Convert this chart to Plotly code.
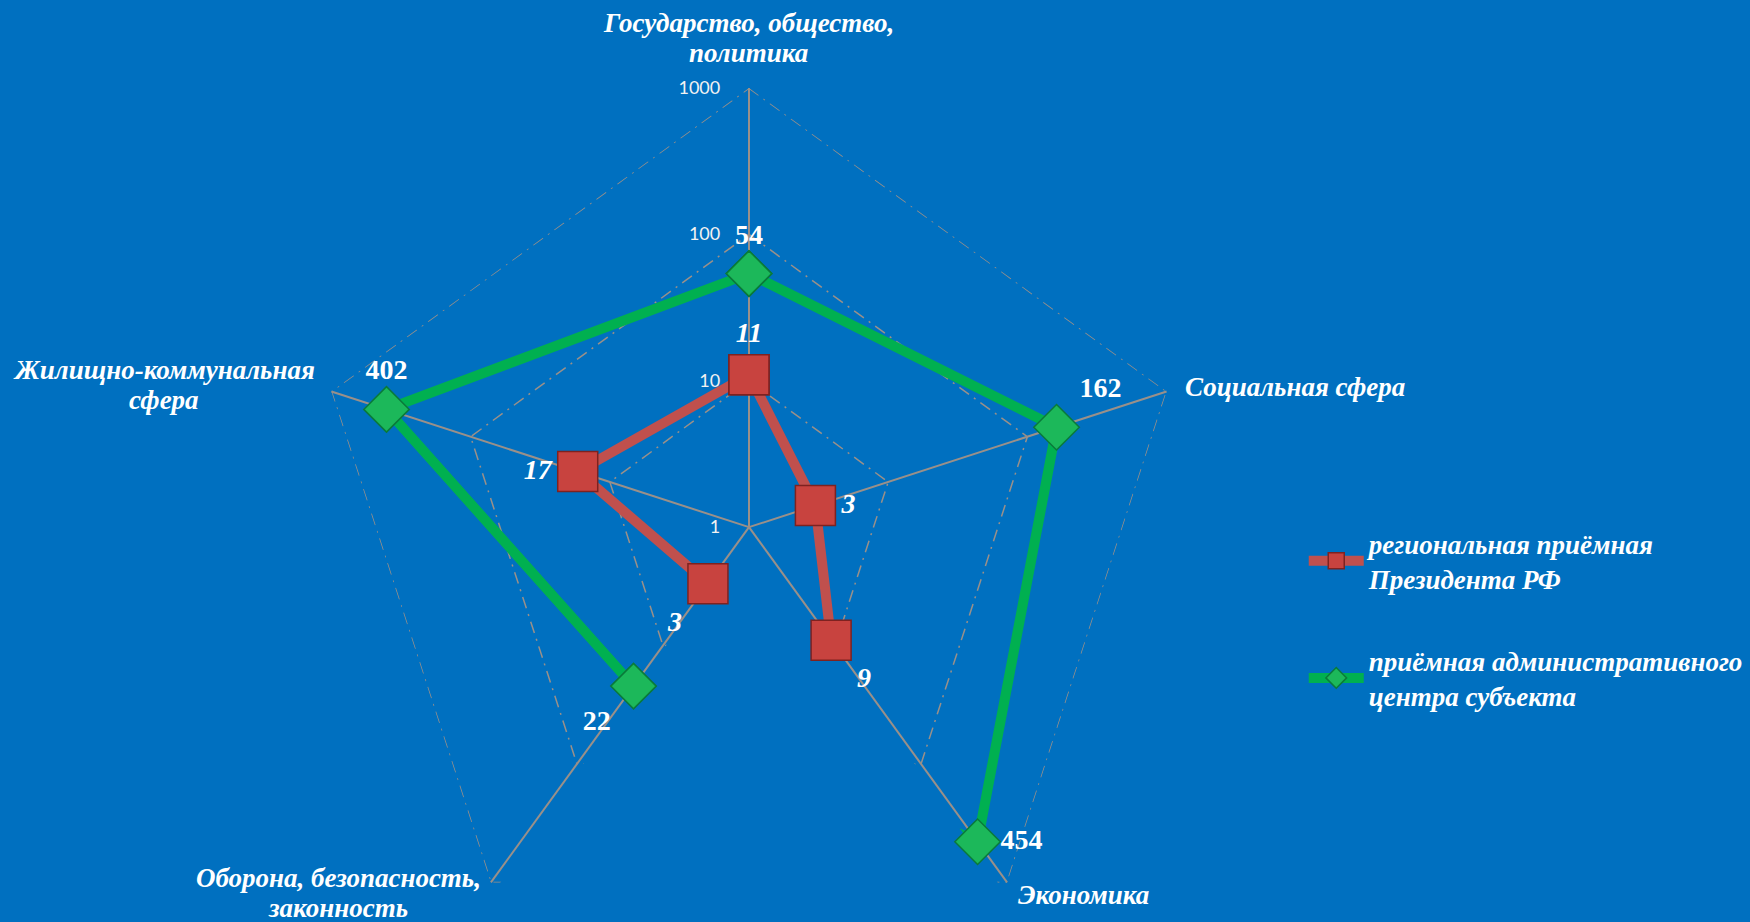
import plotly.graph_objects as go

categories = [
    "Государство, общество, политика",
    "Социальная сфера",
    "Экономика",
    "Оборона, безопасность, законность",
    "Жилищно-коммунальная сфера",
]
category_label_lines = [
    ["Государство, общество,", "политика"],
    ["Социальная сфера"],
    ["Экономика"],
    ["Оборона, безопасность,", "законность"],
    ["Жилищно-коммунальная", "сфера"],
]
series_names = [
    "региональная приёмная<br>Президента РФ",
    "приёмная административного<br>центра субъекта",
]
red_values = [11, 3, 9, 3, 17]
green_values = [54, 162, 454, 22, 402]
red_text_pos = ["top center", "middle right", "bottom right", "bottom left", "middle left"]
green_text_pos = ["top center", "top right", "middle right", "bottom left", "top center"]
grid_levels = [10, 100, 1000]
tick_vals = [1, 10, 100, 1000]
tick_text = ["1", "10", "100", "1000"]

# label placement in pixels from top-left: (x, y of first line, xanchor)
W, H = 1750, 922
LINE_H = 30
label_places = [
    (748, 23, "center"),
    (1183, 387, "left"),
    (1016, 895, "left"),
    (338, 878, "center"),
    (164, 370, "center"),
]

BG = "#0070C0"
GRID = "#9A9089"
SERIF = "Liberation Serif"

fig = go.Figure()

for lvl in grid_levels:
    fig.add_trace(go.Scatterpolar(
        r=[lvl] * (len(categories) + 1),
        theta=categories + [categories[0]],
        mode="lines",
        line=dict(color=GRID, width=1.5, dash="12px,6px,2px,6px"),
        hoverinfo="skip", showlegend=False, cliponaxis=False,
    ))

fig.add_trace(go.Scatterpolar(
    r=green_values + [green_values[0]],
    theta=categories + [categories[0]],
    mode="lines+markers+text",
    name=series_names[1],
    legendgroup="g", legendrank=2,
    line=dict(color="#00B050", width=10),
    marker=dict(symbol="diamond", size=35, color="#1CB85A",
                line=dict(color="#0A7A3A", width=1.5)),
    text=[str(v) for v in green_values] + [""],
    textposition=green_text_pos + ["top center"],
    textfont=dict(family=SERIF, size=28, color="white", weight="bold"),
    cliponaxis=False,
))

fig.add_trace(go.Scatterpolar(
    r=red_values + [red_values[0]],
    theta=categories + [categories[0]],
    mode="lines+markers+text",
    name=series_names[0],
    legendgroup="r", legendrank=1,
    line=dict(color="#C0504D", width=10),
    marker=dict(symbol="square", size=40, color="#C8433F",
                line=dict(color="#7E2220", width=1.5)),
    text=[str(v) for v in red_values] + [""],
    textposition=red_text_pos + ["top center"],
    textfont=dict(family=SERIF, size=28, color="white", weight="bold", style="italic"),
    cliponaxis=False,
))

for lines, (px, py, xa) in zip(category_label_lines, label_places):
    for i, line in enumerate(lines):
        fig.add_annotation(
            text=line, x=px / W, y=1 - (py + i * LINE_H) / H,
            xref="paper", yref="paper",
            xanchor=xa, yanchor="middle", showarrow=False,
            font=dict(family=SERIF, size=27, color="white", weight="bold", style="italic"),
        )

fig.update_layout(
    width=W, height=H, autosize=False,
    paper_bgcolor=BG, plot_bgcolor=BG,
    margin=dict(l=0, r=0, t=0, b=0),
    polar=dict(
        domain=dict(x=[0.1771, 0.6789], y=[0.038, 0.9046]),
        sector=[-55, 235],
        bgcolor="rgba(0,0,0,0)",
        gridshape="linear",
        angularaxis=dict(
            direction="clockwise", rotation=90,
            showline=False, showgrid=True, showticklabels=False,
            gridcolor=GRID, gridwidth=1.5,
            ticks="", layer="below traces",
        ),
        radialaxis=dict(
            type="log", range=[0, 3], angle=90, tickangle=90,
            showline=False, showgrid=False,
            ticks="outside", ticklen=22, tickcolor="rgba(0,0,0,0)",
            tickmode="array", tickvals=tick_vals, ticktext=tick_text,
            side="counterclockwise", layer="below traces",
            tickfont=dict(family="Lato", size=18, color="#F2F2F2"),
        ),
    ),
    showlegend=True,
    legend=dict(
        x=0.745, y=0.437, xanchor="left", yanchor="top",
        bgcolor="rgba(0,0,0,0)", tracegroupgap=44, itemwidth=55,
        font=dict(family=SERIF, size=27, color="white",
                  weight="bold", style="italic"),
    ),
)

fig.write_html(
    "out.html",
    config={"displayModeBar": False},
    post_script="document.body.style.margin='0';document.body.style.background='#0070C0';",
)
